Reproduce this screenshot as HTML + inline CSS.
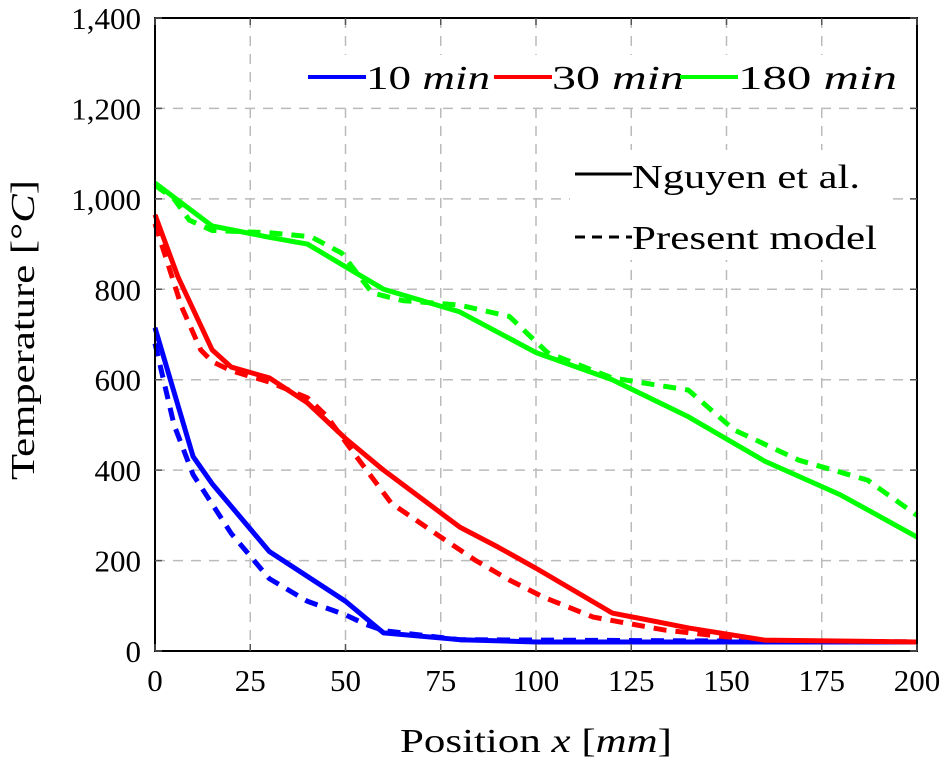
<!DOCTYPE html>
<html><head><meta charset="utf-8"><style>
body{margin:0;background:#fff}
svg{display:block;font-family:"Liberation Serif",serif}
</style></head><body>
<svg id="chart" width="945" height="762" viewBox="0 0 945 762">
<g id="grid"></g>
<g id="series"></g>
<rect x="155" y="18" width="762" height="633" fill="none" stroke="#000" stroke-width="2"/>
<g id="ticks"></g>
<text x="400" y="752" font-size="34" textLength="272" lengthAdjust="spacingAndGlyphs">Position <tspan font-style="italic">x</tspan> [<tspan font-style="italic">mm</tspan>]</text>
<text transform="translate(34,480) rotate(-90)" font-size="34" textLength="300" lengthAdjust="spacingAndGlyphs">Temperature [°<tspan font-style="italic">C</tspan>]</text>
<g font-size="34">
<rect x="300" y="55" width="612" height="50" fill="#fff"/>
<rect x="570" y="150" width="320" height="110" fill="#fff"/>
<g><line x1="308" y1="77" x2="366" y2="77" stroke="#0000ff" stroke-width="4"/><text x="366" y="89" textLength="124" lengthAdjust="spacingAndGlyphs">10 <tspan font-style="italic">min</tspan></text></g>
<g><line x1="494" y1="77" x2="552" y2="77" stroke="#ff0000" stroke-width="4"/><text x="552" y="89" textLength="132" lengthAdjust="spacingAndGlyphs">30 <tspan font-style="italic">min</tspan></text></g>
<g><line x1="680" y1="77" x2="738" y2="77" stroke="#00ff00" stroke-width="4"/><text x="738" y="89" textLength="159" lengthAdjust="spacingAndGlyphs">180 <tspan font-style="italic">min</tspan></text></g>
<g><line x1="575" y1="174" x2="632" y2="174" stroke="#000" stroke-width="3"/><text x="632" y="188" textLength="228" lengthAdjust="spacingAndGlyphs">Nguyen et al.</text></g>
<g><line x1="575" y1="237" x2="632" y2="237" stroke="#000" stroke-width="3" stroke-dasharray="10,7"/><text x="632" y="249" textLength="245" lengthAdjust="spacingAndGlyphs">Present model</text></g>
</g>
</svg>
<script>
const xTicks=[0,25,50,75,100,125,150,175,200];
const yTicks=[0,200,400,600,800,1000,1200,1400];
const yTickLabels=["0","200","400","600","800","1,000","1,200","1,400"];
const blueSolidX=[0,10,15,30,50,60,80,100,200];
const blueSolidY=[715,430,370,220,110,40,25,20,20];
const blueDashX=[0,5,10,20,30,40,50,55,60,80,200];
const blueDashY=[680,500,390,260,160,110,80,60,45,25,20];
const redSolidX=[0,6,15,20,30,40,50,60,80,90,100,120,140,160,200];
const redSolidY=[965,828,666,628,604,549,470,400,274,230,183,84,51,24,20];
const redDashX=[0,7,12,15,20,30,40,45,51,62,75,84,93,102,115,134,160,200];
const redDashY=[945,761,666,640,620,595,560,520,451,327,252,201,157,119,75,46,22,20];
const greenSolidX=[0,15,30,40,50,60,80,100,120,140,160,180,200];
const greenSolidY=[1035,940,915,900,850,800,750,660,600,518,420,345,252];
const greenDashX=[0,5,9,15,30,41,49,57,65,80,93,103,120,140,152,169,187,198,200];
const greenDashY=[1030,1000,953,930,925,916,880,792,775,765,740,660,604,577,489,422,378,312,300];
const X=v=>155+v*762/200, Y=v=>651-v*633/1400;
const NS="http://www.w3.org/2000/svg";
const grid=document.getElementById('grid'),ticks=document.getElementById('ticks'),ser=document.getElementById('series');
xTicks.forEach((t,i)=>{
 if(i>0&&i<xTicks.length-1){const l=document.createElementNS(NS,'line');l.setAttribute('x1',X(t));l.setAttribute('x2',X(t));l.setAttribute('y1',18);l.setAttribute('y2',651);l.setAttribute('stroke','#bbb');l.setAttribute('stroke-width','1.5');l.setAttribute('stroke-dasharray','10,8');
 
 grid.appendChild(l);}
 const tk=document.createElementNS(NS,'path');tk.setAttribute('d',`M${X(t)},651v-7M${X(t)},18v7`);tk.setAttribute('stroke','#555');tk.setAttribute('stroke-width','1.5');
 
 ticks.appendChild(tk);
 const tx=document.createElementNS(NS,'text');tx.setAttribute('x',X(t));tx.setAttribute('y',691);tx.setAttribute('font-size','31');tx.setAttribute('text-anchor','middle');tx.textContent=t;
 
 ticks.appendChild(tx);
});
yTicks.forEach((t,i)=>{
 if(i>0&&i<yTicks.length-1){const l=document.createElementNS(NS,'line');l.setAttribute('y1',Y(t));l.setAttribute('y2',Y(t));l.setAttribute('x1',155);l.setAttribute('x2',917);l.setAttribute('stroke','#bbb');l.setAttribute('stroke-width','1.5');l.setAttribute('stroke-dasharray','10,8');
 
 grid.appendChild(l);}
 const tk=document.createElementNS(NS,'path');tk.setAttribute('d',`M155,${Y(t)}h7M917,${Y(t)}h-7`);tk.setAttribute('stroke','#555');tk.setAttribute('stroke-width','1.5');
 
 ticks.appendChild(tk);
 const tx=document.createElementNS(NS,'text');tx.setAttribute('x',141);tx.setAttribute('y',Y(t)+11);tx.setAttribute('font-size','31');tx.setAttribute('text-anchor','end');tx.textContent=yTickLabels[i];
 
 ticks.appendChild(tx);
});
function line(xs,ys,color,dash,name){
 const p=document.createElementNS(NS,'polyline');
 p.setAttribute('points',xs.map((x,i)=>X(x)+','+Y(ys[i])).join(' '));
 p.setAttribute('fill','none');p.setAttribute('stroke',color);p.setAttribute('stroke-width','5');p.setAttribute('stroke-linejoin','round');
 if(dash)p.setAttribute('stroke-dasharray','13,9');
 
 
 ser.appendChild(p);
}
line(blueDashX,blueDashY,'#0000ff',true,'10min-present-model-line');
line(redDashX,redDashY,'#ff0000',true,'30min-present-model-line');
line(greenDashX,greenDashY,'#00ff00',true,'180min-present-model-line');
line(blueSolidX,blueSolidY,'#0000ff',false,'10min-nguyen-line');
line(greenSolidX,greenSolidY,'#00ff00',false,'180min-nguyen-line');
line(redSolidX,redSolidY,'#ff0000',false,'30min-nguyen-line');
</script>
</body></html>
